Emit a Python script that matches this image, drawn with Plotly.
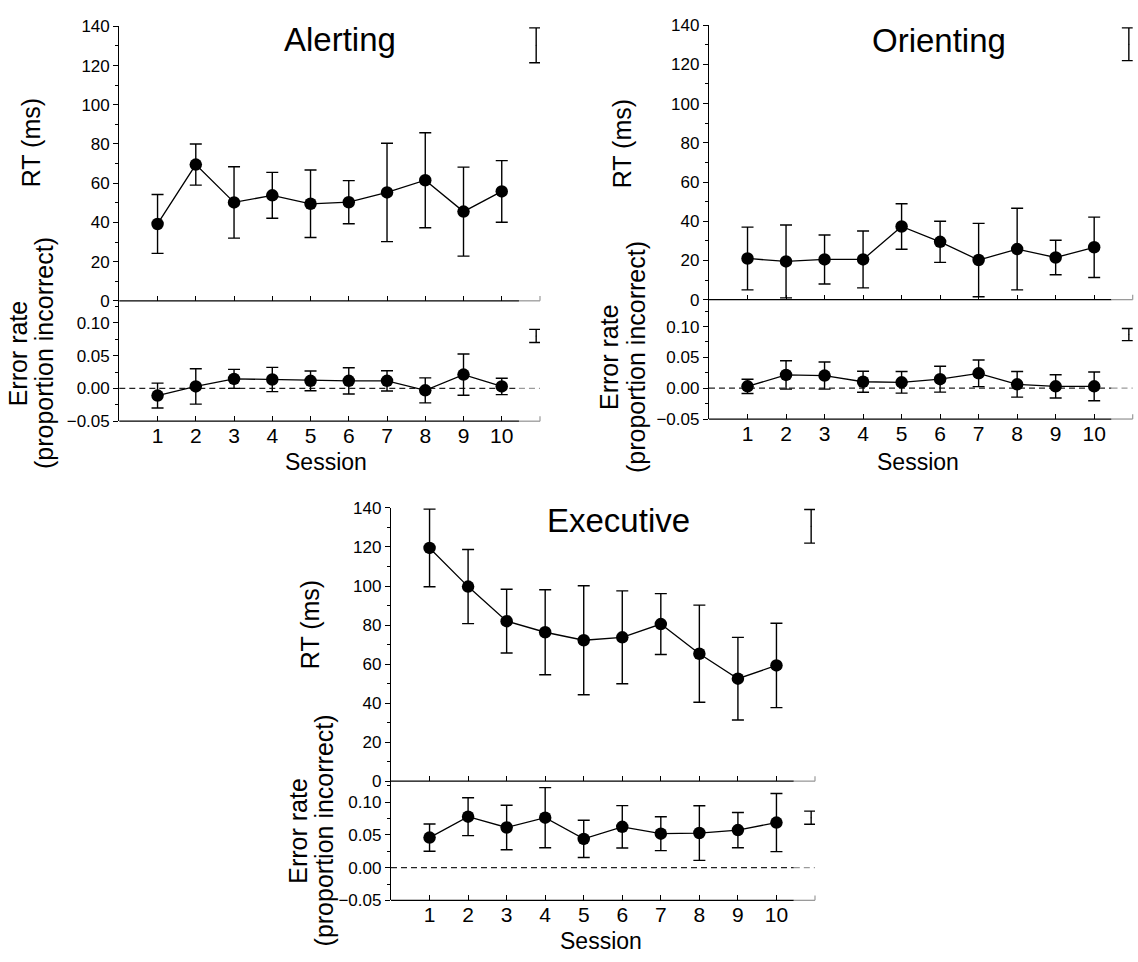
import plotly.graph_objects as go

# ---- data -------------------------------------------------------------
sessions = list(range(1, 11))
session_labels = [str(s) for s in sessions] + [""]

alert_rt = [39.2, 69.5, 50.2, 53.8, 49.5, 50.3, 55.3, 61.5, 45.5, 55.8]
alert_rt_err = [15.0, 10.5, 18.2, 11.7, 17.2, 11.0, 25.1, 24.2, 22.7, 15.7]
alert_er = [-0.011, 0.003, 0.0145, 0.0135, 0.0115, 0.0115, 0.0115, -0.003, 0.021, 0.003]
alert_er_err = [0.019, 0.027, 0.0145, 0.0185, 0.015, 0.020, 0.0155, 0.019, 0.0315, 0.0125]

orient_rt = [21.0, 19.5, 20.5, 20.5, 37.3, 29.5, 20.2, 25.8, 21.5, 26.7]
orient_rt_err = [16.0, 18.6, 12.5, 14.5, 11.6, 10.5, 18.7, 20.8, 8.8, 15.4]
orient_er = [0.003, 0.0216, 0.0205, 0.0105, 0.0095, 0.0147, 0.0242, 0.0063, 0.003, 0.003]
orient_er_err = [0.0116, 0.023, 0.022, 0.017, 0.0175, 0.021, 0.0216, 0.0207, 0.0189, 0.0234]

exec_rt = [119.5, 99.7, 82.0, 76.3, 72.2, 73.7, 80.5, 65.3, 52.5, 59.3]
exec_rt_err = [19.9, 19.0, 16.3, 21.8, 27.9, 23.8, 15.6, 24.9, 21.2, 21.6]
exec_er = [0.046, 0.078, 0.0615, 0.0765, 0.044, 0.0625, 0.052, 0.053, 0.0575, 0.069]
exec_er_err = [0.0208, 0.029, 0.034, 0.046, 0.0285, 0.0325, 0.026, 0.0418, 0.027, 0.0445]

# pooled error bar drawn at the right end of each panel
summary_x = 10.9
alert_sum = {"rt": 130.3, "rt_err": 8.9, "er": 0.080, "er_err": 0.010}
orient_sum = {"rt": 130.25, "rt_err": 8.35, "er": 0.087, "er_err": 0.0098}
exec_sum = {"rt": 130.6, "rt_err": 8.6, "er": 0.0765, "er_err": 0.010}

# ---- layout geometry (pixels) -----------------------------------------
W, H = 1138, 962
FONT = "Liberation Sans, Arial, Helvetica, sans-serif"


def xdom(left, right):
    return [left / W, right / W]


def ydom(top, bottom):
    return [1 - bottom / H, 1 - top / H]


panels = [
    dict(name="Alerting", rt=alert_rt, rt_err=alert_rt_err, er=alert_er, er_err=alert_er_err,
         summ=alert_sum, x=(119.3, 540.0), rt_y=(17.7, 297.7), er_y=(297.7, 420.5), er_top=0.1335,
         title_xy=(339.5, 31.0), rt_lab=(31.0, 137.0), er_lab1=(18.3, 351.0), er_lab2=(44.0, 351.0),
         sess_xy=(325.5, 462.0)),
    dict(name="Orienting", rt=orient_rt, rt_err=orient_rt_err, er=orient_er, er_err=orient_er_err,
         summ=orient_sum, x=(709.0, 1132.7), rt_y=(16.5, 296.5), er_y=(296.5, 418.3), er_top=0.1437,
         title_xy=(939.0, 32.0), rt_lab=(622.0, 138.0), er_lab1=(609.0, 355.0), er_lab2=(636.0, 355.0),
         sess_xy=(918.0, 462.0)),
    dict(name="Executive", rt=exec_rt, rt_err=exec_rt_err, er=exec_er, er_err=exec_er_err,
         summ=exec_sum, x=(391.0, 815.0), rt_y=(509.0, 787.7), er_y=(787.7, 909.3), er_top=0.1324,
         title_xy=(618.5, 522.0), rt_lab=(309.6, 628.0), er_lab1=(298.3, 838.0), er_lab2=(324.0, 838.0),
         sess_xy=(601.0, 951.0)),
]

fig = go.Figure()
layout = dict(
    width=W, height=H,
    margin=dict(l=0, r=0, t=0, b=0),
    paper_bgcolor="white", plot_bgcolor="rgba(0,0,0,0)",
    showlegend=False,
    font=dict(family=FONT, color="black"),
)
shapes = []
annotations = []

GRAY = "#9a9a9a"
GRAY_START = 10.45 / 11.0


def ann(x, y, text, size, angle=0):
    annotations.append(dict(
        x=x / W, y=1 - y / H, xref="paper", yref="paper", text=text, showarrow=False,
        xanchor="center", yanchor="middle", textangle=angle,
        font=dict(family=FONT, size=size, color="black"),
    ))


for i, p in enumerate(panels):
    n_rt = 2 * i + 1
    n_er = 2 * i + 2
    for n, vals, errs, summ_v, summ_e in [
        (n_rt, p["rt"], p["rt_err"], p["summ"]["rt"], p["summ"]["rt_err"]),
        (n_er, p["er"], p["er_err"], p["summ"]["er"], p["summ"]["er_err"]),
    ]:
        xa = "x" if n == 1 else f"x{n}"
        ya = "y" if n == 1 else f"y{n}"
        fig.add_trace(go.Scatter(
            x=sessions, y=vals, xaxis=xa, yaxis=ya, mode="lines+markers",
            line=dict(color="black", width=1.3),
            marker=dict(color="black", size=12.5),
            error_y=dict(type="data", array=errs, visible=True, color="black",
                         thickness=1.4, width=6),
            cliponaxis=False,
        ))
        fig.add_trace(go.Scatter(
            x=[summary_x], y=[summ_v], xaxis=xa, yaxis=ya, mode="markers",
            marker=dict(color="black", size=1),
            error_y=dict(type="data", array=[summ_e], visible=True, color="black",
                         thickness=1.4, width=7),
            cliponaxis=False,
        ))

    # axes
    for n, ydomain, is_er in [(n_rt, p["rt_y"], False), (n_er, p["er_y"], True)]:
        xkey = "xaxis" if n == 1 else f"xaxis{n}"
        ykey = "yaxis" if n == 1 else f"yaxis{n}"
        yid = "y" if n == 1 else f"y{n}"
        xid = "x" if n == 1 else f"x{n}"
        layout[xkey] = dict(
            domain=xdom(*p["x"]), anchor=yid, range=[0, 11],
            tickmode="array", tickvals=sessions, ticktext=session_labels[:-1],
            showticklabels=is_er, ticks="inside", ticklen=5, tickwidth=1.2, tickcolor="black",
            tickfont=dict(family=FONT, size=21, color="black"),
            showline=False, showgrid=False, zeroline=False, fixedrange=True,
        )
        ycfg = dict(
            domain=ydom(*ydomain), anchor=xid,
            showline=True, linecolor="black", linewidth=1.3,
            ticks="outside", ticklen=5, tickwidth=1.2, tickcolor="black",
            tickfont=dict(family=FONT, size=17, color="black"),
            showgrid=False, zeroline=False, fixedrange=True,
        )
        if is_er:
            ycfg.update(range=[-0.05, p["er_top"]], tick0=0, dtick=0.05, tickformat=".2f",
                        minor=dict(ticks="outside", ticklen=3, tick0=0, dtick=0.025,
                                   tickcolor="black", tickwidth=1.2, showgrid=False))
        else:
            ycfg.update(range=[0, 140], tick0=0, dtick=20,
                        minor=dict(ticks="outside", ticklen=3, tick0=0, dtick=10,
                                   tickcolor="black", tickwidth=1.2, showgrid=False))
        layout[ykey] = ycfg

        # bottom axis line: dark over the sessions, light grey over the pooled-bar zone
        shapes.append(dict(type="line", xref=f"{xid} domain", yref=f"{yid} domain",
                           x0=0, x1=GRAY_START, y0=0, y1=0, layer="above",
                           line=dict(color="black", width=1.3)))
        shapes.append(dict(type="line", xref=f"{xid} domain", yref=f"{yid} domain",
                           x0=GRAY_START, x1=1, y0=0, y1=0, layer="above",
                           line=dict(color=GRAY, width=1.3)))
        # grey end tick closing the axis at the right
        shapes.append(dict(type="line", xref=f"{xid} domain", yref=f"{yid} domain",
                           x0=1, x1=1, y0=0, y1=5.0 / ((ydomain[1] - ydomain[0])), layer="above",
                           line=dict(color=GRAY, width=1.2)))
        if is_er:
            # dashed zero reference
            shapes.append(dict(type="line", xref=f"{xid} domain", yref=yid,
                               x0=0, x1=GRAY_START, y0=0, y1=0, layer="below",
                               line=dict(color="#222222", width=1.2, dash="6px,4px")))
            shapes.append(dict(type="line", xref=f"{xid} domain", yref=yid,
                               x0=GRAY_START, x1=1, y0=0, y1=0, layer="below",
                               line=dict(color=GRAY, width=1.2, dash="6px,4px")))

    # text
    ann(*p["title_xy"], p["name"], 33)
    ann(*p["rt_lab"], "RT (ms)", 25, angle=-90)
    ann(*p["er_lab1"], "Error rate", 25, angle=-90)
    ann(*p["er_lab2"], "(proportion incorrect)", 25, angle=-90)
    ann(*p["sess_xy"], "Session", 23)

layout["shapes"] = shapes
layout["annotations"] = annotations
fig.update_layout(**layout)

fig.write_html("out.html")
